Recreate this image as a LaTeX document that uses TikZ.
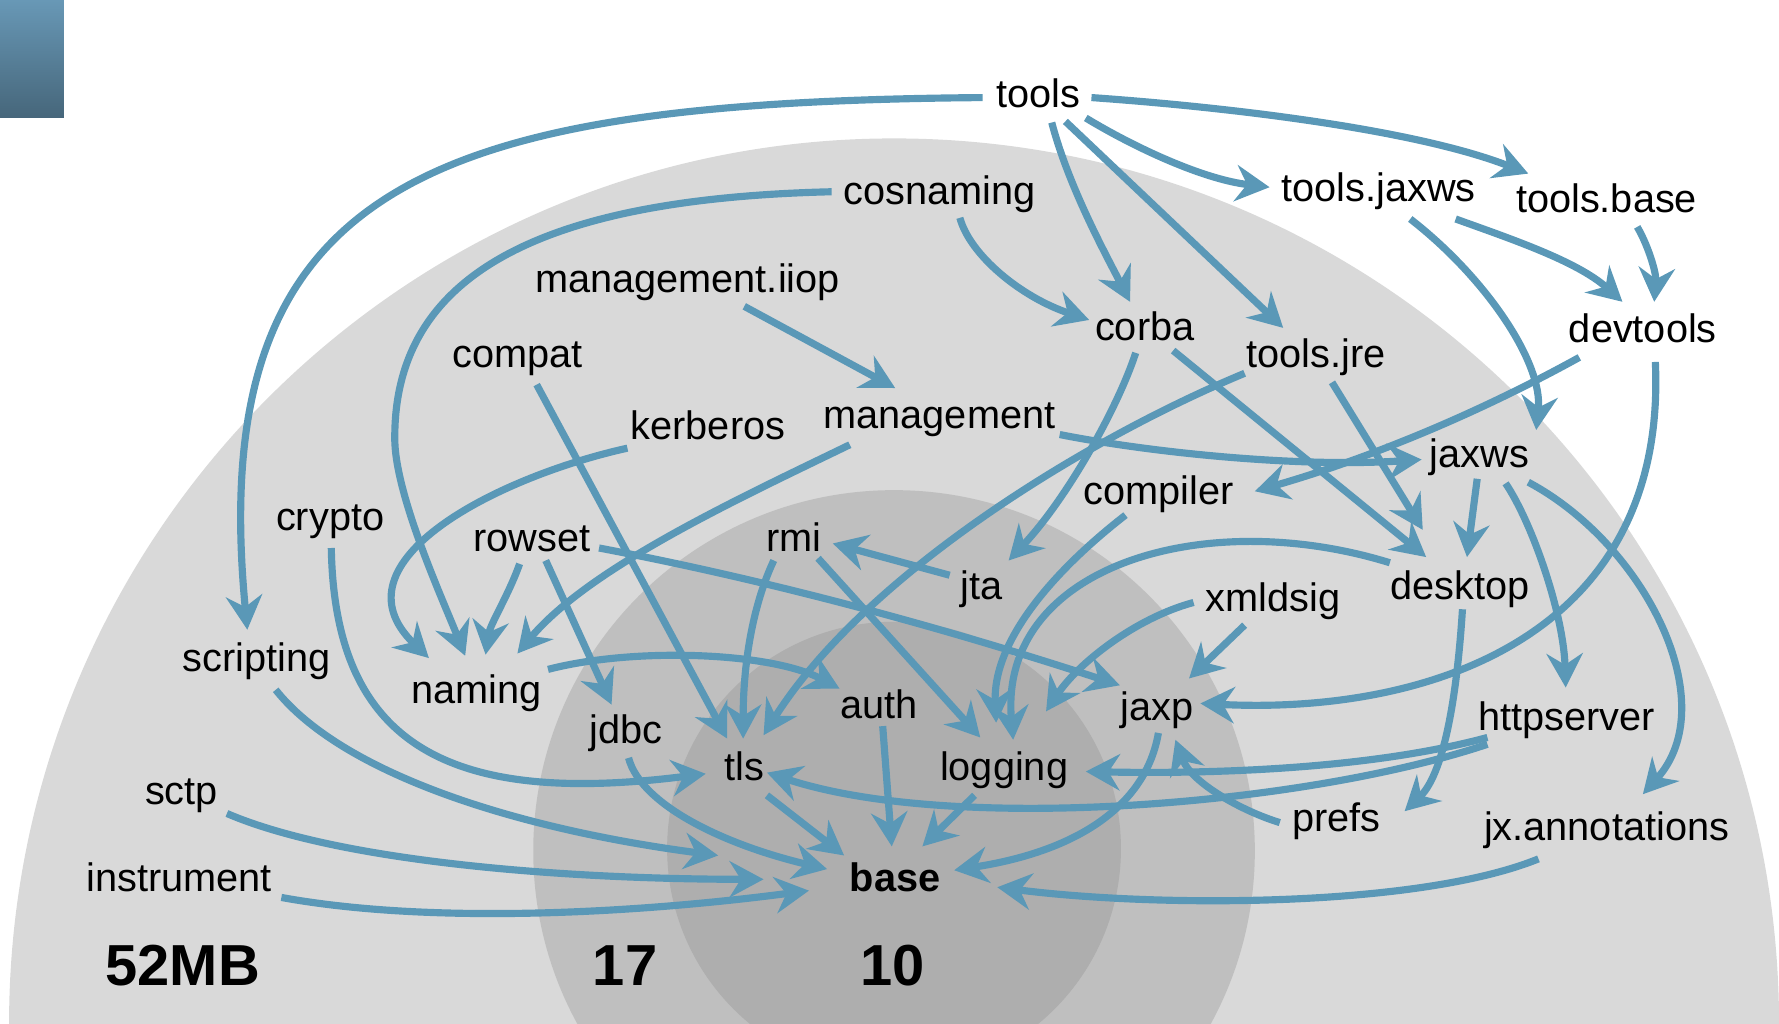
\documentclass[tikz,border=0pt]{standalone}
\usepackage{fontspec}
\setmainfont{Liberation Sans}
\usetikzlibrary{arrows.meta}
\definecolor{edgec}{RGB}{90,152,183}
\definecolor{lg}{RGB}{217,217,217}
\definecolor{mg}{RGB}{191,191,191}
\definecolor{dg}{RGB}{174,174,174}
\definecolor{sqtop}{RGB}{104,152,182}
\definecolor{sqbot}{RGB}{70,102,122}
\tikzset{
  lbl/.style={anchor=base, inner sep=0pt, font=\fontsize{35}{42}\selectfont},
  lblb/.style={anchor=base, inner sep=0pt, font=\fontsize{35}{42}\selectfont\bfseries},
  big/.style={anchor=base, inner sep=0pt, font=\fontsize{51}{60}\selectfont\bfseries},
  dep/.style={draw=edgec, line width=6.3pt, -{Stealth[length=30pt,width=32pt,inset=10pt]}},
}
\begin{document}
\begin{tikzpicture}[x=1pt,y=-1pt]
\useasboundingbox (0,0) rectangle (1568,902);
\begin{scope}
  \clip (0,0) rectangle (1568,902);
  \fill[lg] (788,902) circle[radius=780];
  \fill[mg] (788,750) circle[radius=318];
  \fill[dg] (788,748) circle[radius=200];
  \shade[top color=sqtop,bottom color=sqbot] (0,0) rectangle (56.4,104);
\end{scope}

% nodes
\node[lbl] (tools) at (915,95) {tools};
\node[lbl] (toolsjaxws) at (1215,178) {tools.jaxws};
\node[lbl] (toolsbase) at (1416,187) {tools.base};
\node[lbl] (cosnaming) at (828,180) {cosnaming};
\node[lbl] (mgmtiiop) at (606,258) {management.iiop};
\node[lbl] (corba) at (1009,300) {corba};
\node[lbl] (toolsjre) at (1160,324) {tools.jre};
\node[lbl] (devtools) at (1448,302) {devtools};
\node[lbl] (compat) at (456,324) {compat};
\node[lbl] (kerberos) at (624,387) {kerberos};
\node[lbl] (management) at (828,378) {management};
\node[lbl] (jaxws) at (1304,412) {jaxws};
\node[lbl] (compiler) at (1021,445) {compiler};
\node[lbl] (crypto) at (291,468) {crypto};
\node[lbl] (rowset) at (469,486) {rowset};
\node[lbl] (rmi) at (700,486) {rmi};
\node[lbl] (jta) at (865,528) {jta};
\node[lbl] (desktop) at (1287,528) {desktop};
\node[lbl] (xmldsig) at (1122,539) {xmldsig};
\node[lbl] (scripting) at (226,592) {scripting};
\node[lbl] (naming) at (420,620) {naming};
\node[lbl] (jaxp) at (1020,635) {jaxp};
\node[lbl] (httpserver) at (1381,644) {httpserver};
\node[lbl] (auth) at (775,633) {auth};
\node[lbl] (jdbc) at (552,655) {jdbc};
\node[lbl] (tls) at (656,688) {tls};
\node[lbl] (logging) at (885,688) {logging};
\node[lbl] (sctp) at (160,709) {sctp};
\node[lbl] (prefs) at (1178,733) {prefs};
\node[lbl] (jxann) at (1416,741) {jx.annotations};
\node[lbl] (instrument) at (158,786) {instrument};
\node[lblb] (base) at (789,786) {base};
\node[big] (mb52) at (161,869) {52MB};
\node[big] (n17) at (551,869) {17};
\node[big] (n10) at (787,869) {10};

% connectors
\draw[dep] ([shift={(-49,-9)}]tools.base) .. controls (380,90) and (180,160) .. ([shift={(-8,-37)}]scripting.base);
\draw[dep] ([shift={(12,13)}]tools.base) .. controls (942,165) and (975,225) .. ([shift={(-13,-34)}]corba.base);
\draw[dep] ([shift={(24,12)}]tools.base) -- ([shift={(-29,-35)}]toolsjre.base);
\draw[dep] ([shift={(42,9)}]tools.base) .. controls (1000,130) and (1060,158) .. ([shift={(-96,-13)}]toolsjaxws.base);
\draw[dep] ([shift={(47,-9)}]tools.base) .. controls (1090,95) and (1250,115) .. ([shift={(-69,-34)}]toolsbase.base);

\draw[dep] ([shift={(18,12)}]cosnaming.base) .. controls (855,225) and (900,262) .. ([shift={(-49,-18)}]corba.base);
\draw[dep] ([shift={(-95,-11)}]cosnaming.base) .. controls (480,175) and (345,240) .. (348,390) .. controls (350,440) and (390,528) .. ([shift={(-10,-42)}]naming.base);
\draw[dep] ([shift={(50,12)}]mgmtiiop.base) -- ([shift={(-39,-36)}]management.base);
\draw[dep] ([shift={(17,15)}]compat.base) -- ([shift={(-15,-37)}]tls.base);
\draw[dep] ([shift={(-71,8)}]kerberos.base) .. controls (440,420) and (290,495) .. ([shift={(-42,-40)}]naming.base);
\draw[dep] ([shift={(-79,14)}]management.base) .. controls (650,440) and (520,500) .. ([shift={(36,-44)}]naming.base);
\draw[dep] ([shift={(1,15)}]crypto.base) .. controls (295,660) and (400,710) .. ([shift={(-34,-6)}]tls.base);
\draw[dep] ([shift={(-11,11)}]rowset.base) .. controls (448,525) and (432,550) .. ([shift={(8,-43)}]naming.base);
\draw[dep] ([shift={(12,8)}]rowset.base) -- ([shift={(-13,-34)}]jdbc.base);
\draw[dep] ([shift={(59,-3)}]rowset.base) .. controls (681,512) and (834,554) .. ([shift={(-33,-31)}]jaxp.base);
\draw[dep] ([shift={(-18,8)}]rmi.base) .. controls (665,530) and (655,580) .. ([shift={(-1,-37)}]tls.base);
\draw[dep] ([shift={(21,6)}]rmi.base) -- ([shift={(-21,-38)}]logging.base);
\draw[dep] ([shift={(-28,-21)}]jta.base) -- ([shift={(34,-7)}]rmi.base);
\draw[dep] ([shift={(-8,11)}]corba.base) .. controls (985,360) and (940,440) .. ([shift={(24,-34)}]jta.base);
\draw[dep] ([shift={(25,9)}]corba.base) -- ([shift={(-30,-37)}]desktop.base);
\draw[dep] ([shift={(-63,5)}]toolsjre.base) .. controls (950,390) and (760,510) .. ([shift={(17,-40)}]tls.base);
\draw[dep] ([shift={(14,13)}]toolsjre.base) -- ([shift={(-33,-61)}]desktop.base);
\draw[dep] ([shift={(28,15)}]toolsjaxws.base) .. controls (1310,245) and (1360,320) .. ([shift={(50,-33)}]jaxws.base);
\draw[dep] ([shift={(68,15)}]toolsjaxws.base) .. controls (1330,210) and (1390,230) .. ([shift={(-18,-36)}]devtools.base);
\draw[dep] ([shift={(27,13)}]toolsbase.base) .. controls (1452,215) and (1460,240) .. ([shift={(10,-36)}]devtools.base);
\draw[dep] ([shift={(106,5)}]management.base) .. controls (1020,400) and (1150,412) .. ([shift={(-51,-7)}]jaxws.base);
\draw[dep] ([shift={(-56,13)}]devtools.base) .. controls (1296,368) and (1200,406) .. ([shift={(85,-12)}]compiler.base);
\draw[dep] ([shift={(11,17)}]devtools.base) .. controls (1470,560) and (1260,630) .. ([shift={(38,-15)}]jaxp.base);
\draw[dep] ([shift={(-29,9)}]compiler.base) .. controls (920,510) and (875,570) .. ([shift={(-7,-51)}]logging.base);
\draw[dep] ([shift={(-62,-32)}]desktop.base) .. controls (1060,445) and (880,500) .. ([shift={(8,-36)}]logging.base);
\draw[dep] ([shift={(-70,-8)}]xmldsig.base) .. controls (1000,545) and (950,585) .. ([shift={(37,-61)}]logging.base);
\draw[dep] ([shift={(-25,12)}]xmldsig.base) -- ([shift={(28,-37)}]jaxp.base);
\draw[dep] ([shift={(-2,10)}]jaxws.base) -- ([shift={(6,-37)}]desktop.base);
\draw[dep] ([shift={(23,14)}]jaxws.base) .. controls (1350,460) and (1378,540) .. ([shift={(-1,-38)}]httpserver.base);
\draw[dep] ([shift={(43,13)}]jaxws.base) .. controls (1450,480) and (1520,620) .. ([shift={(32,-41)}]jxann.base);
\draw[dep] ([shift={(2,9)}]desktop.base) .. controls (1285,600) and (1275,680) .. ([shift={(60,-18)}]prefs.base);
\draw[dep] ([shift={(-70,6)}]httpserver.base) .. controls (1200,680) and (1050,682) .. ([shift={(72,-8)}]logging.base);
\draw[dep] ([shift={(-70,12)}]httpserver.base) .. controls (1150,710) and (840,735) .. ([shift={(20,-7)}]tls.base);
\draw[dep] ([shift={(-50,-8)}]prefs.base) .. controls (1095,715) and (1050,690) .. ([shift={(16,17)}]jaxp.base);
\draw[dep] ([shift={(1,11)}]jaxp.base) .. controls (1010,710) and (950,750) .. ([shift={(52,-19)}]base.base);
\draw[dep] ([shift={(-60,16)}]jxann.base) .. controls (1250,800) and (1020,800) .. ([shift={(90,-4)}]base.base);
\draw[dep] ([shift={(3,7)}]auth.base) -- ([shift={(-3,-40)}]base.base);
\draw[dep] ([shift={(-26,13)}]logging.base) -- ([shift={(24,-40)}]base.base);
\draw[dep] ([shift={(20,13)}]tls.base) -- ([shift={(-45,-32)}]base.base);
\draw[dep] ([shift={(2,13)}]jdbc.base) .. controls (565,710) and (640,745) .. ([shift={(-60,-20)}]base.base);
\draw[dep] ([shift={(17,16)}]scripting.base) .. controls (300,680) and (450,730) .. ([shift={(-156,-32)}]base.base);
\draw[dep] ([shift={(40,8)}]sctp.base) .. controls (300,760) and (500,775) .. ([shift={(-116,-11)}]base.base);
\draw[dep] ([shift={(90,5)}]instrument.base) .. controls (380,815) and (560,805) .. ([shift={(-76,-1)}]base.base);
\draw[dep] ([shift={(63,-30)}]naming.base) .. controls (560,570) and (680,575) .. ([shift={(-35,-26)}]auth.base);
\end{tikzpicture}
\end{document}
